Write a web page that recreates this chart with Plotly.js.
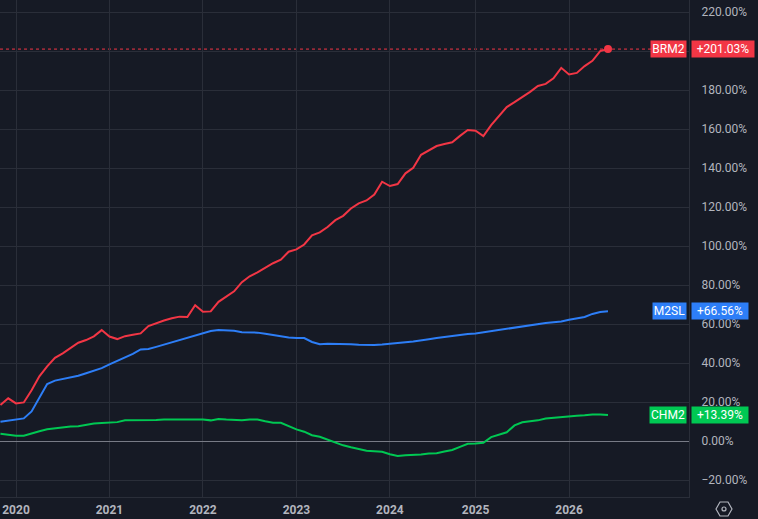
<!DOCTYPE html>
<html><head><meta charset="utf-8">
<script src="https://cdn.plot.ly/plotly-3.0.1.min.js"></script>
<style>html,body{margin:0;padding:0;background:#161a25;overflow:hidden}#chart{width:758px;height:519px}</style>
</head><body><div id="chart"></div>
<script>
const months = [
 '2019-11','2019-12',
 '2020-01','2020-02','2020-03','2020-04','2020-05','2020-06','2020-07','2020-08','2020-09','2020-10','2020-11','2020-12',
 '2021-01','2021-02','2021-03','2021-04','2021-05','2021-06','2021-07','2021-08','2021-09','2021-10','2021-11','2021-12',
 '2022-01','2022-02','2022-03','2022-04','2022-05','2022-06','2022-07','2022-08','2022-09','2022-10','2022-11','2022-12',
 '2023-01','2023-02','2023-03','2023-04','2023-05','2023-06','2023-07','2023-08','2023-09','2023-10','2023-11','2023-12',
 '2024-01','2024-02','2024-03','2024-04','2024-05','2024-06','2024-08','2024-09','2024-10','2024-11','2024-12',
 '2025-01','2025-02','2025-03','2025-04','2025-05','2025-06','2025-07','2025-08','2025-09','2025-10','2025-11','2025-12',
 '2026-01','2026-02','2026-03','2026-04','2026-05','2026-06'
];
const brm2 = [18.5,21.9,19.3,19.8,26.0,33.2,38.3,42.7,45.0,47.5,
 50.4,51.8,53.7,56.9,53.6,52.3,53.8,54.5,55.2,59.0,
 60.6,61.8,63.0,63.8,63.6,69.7,66.3,66.5,71.4,74.2,
 76.8,81.5,84.5,86.5,88.9,91.2,93.0,97.1,98.3,100.8,
 105.5,107.0,109.8,113.3,115.5,119.3,121.9,123.4,126.4,133.0,
 130.8,131.8,137.3,140.1,146.8,148.9,151.3,152.3,153.2,156.5,
 159.5,159.2,156.4,162.0,166.9,171.3,173.8,176.4,179.1,182.1,
 183.2,186.0,191.4,188.0,188.8,192.3,195.0,200.0,201.03];
const m2sl = [9.9,10.4,11.0,11.6,15.2,22.3,29.2,31.0,31.8,32.4,
 33.5,34.8,36.2,37.4,39.3,41.0,42.8,44.7,47.0,47.2,
 48.3,49.5,50.5,51.6,52.9,54.2,55.6,56.4,56.9,56.9,
 56.6,55.8,55.6,55.6,55.0,54.3,53.6,53.1,52.9,52.8,
 50.8,49.6,49.9,49.9,49.8,49.6,49.4,49.2,49.2,49.5,
 50.0,50.4,50.7,51.1,51.8,52.2,52.8,53.4,53.9,54.4,
 54.9,55.2,55.8,56.4,57.0,57.7,58.3,58.9,59.6,60.1,
 60.5,60.9,61.3,62.2,63.0,63.6,65.2,66.2,66.56];
const chm2 = [3.7,3.3,2.7,2.7,4.0,5.0,6.0,6.5,7.0,7.5,
 7.6,8.3,9.0,9.3,9.6,9.7,10.6,10.6,10.6,10.7,
 10.8,11.0,11.1,11.1,11.1,11.0,11.0,10.6,11.3,11.0,
 10.8,10.6,11.0,11.1,10.2,9.4,9.4,7.5,6.0,4.8,
 3.0,2.2,0.6,-0.8,-2.2,-3.2,-4.2,-5.0,-5.2,-5.5,
 -6.8,-7.7,-7.3,-7.2,-6.9,-6.4,-6.2,-5.4,-4.6,-3.0,
 -1.4,-1.3,-0.9,2.0,3.3,4.5,8.0,9.6,10.2,10.6,
 11.6,12.0,12.3,12.5,13.0,13.2,13.6,13.6,13.39];

const seriesNames = ['BRM2','M2SL','CHM2'];
const seriesData = [brm2, m2sl, chm2];
const seriesColors = ['#f23645','#2d7ef7','#00c853'];
const nameWidths = [33,31,34];
const valueWidths = [60,54,54];
const yearTicks = ['2020-01','2021-01','2022-01','2023-01','2024-01','2025-01','2026-01'];
const yearLabels = ['2020','2021','2022','2023','2024','2025','2026'];
const yTicks = [-20,0,20,40,60,80,100,120,140,160,180,200,220];
const yTickText = yTicks.map(v => (v<0?'\u2212':'') + Math.abs(v).toFixed(2) + '%');

const FONT = 'Roboto, "Liberation Sans", sans-serif';
const last = months[months.length-1];

const traces = seriesData.map((d,k)=>({
  x: months, y: d, type:'scatter', mode:'lines', name: seriesNames[k],
  line:{color: seriesColors[k], width:2}, hoverinfo:'skip'
}));
traces.push({x:[last], y:[brm2[brm2.length-1]], type:'scatter', mode:'markers',
  marker:{color:seriesColors[0], size:8}, hoverinfo:'skip'});

const annotations = [];
seriesData.forEach((d,k)=>{
  const v = d[d.length-1];
  annotations.push({xref:'paper', yref:'y', x:0.997, y:v, xanchor:'right', yanchor:'middle',
    text: seriesNames[k], showarrow:false, bgcolor: seriesColors[k], width:nameWidths[k],
    borderpad:1, font:{family:FONT, size:12, color:'#ffffff'}});
  annotations.push({xref:'paper', yref:'y', x:1.003, y:v, xanchor:'left', yanchor:'middle',
    text: (v>=0?'+':'') + v.toFixed(2) + '%', showarrow:false, bgcolor: seriesColors[k], width:valueWidths[k],
    borderpad:1, font:{family:FONT, size:12, color:'#ffffff'}});
});

const layout = {
  width:758, height:519,
  paper_bgcolor:'#161a25', plot_bgcolor:'#161a25',
  margin:{l:0, r:69, t:0, b:22},
  showlegend:false,
  hovermode:false,
  font:{family:FONT, size:12, color:'#b2b5be'},
  xaxis:{type:'category', range:[-0.054, 88.4], tickmode:'array', tickvals:yearTicks, ticktext:yearLabels,
    showgrid:true, gridcolor:'#2a2e39', gridwidth:1, zeroline:false, ticks:'',
    showline:true, linecolor:'#2a2e39', linewidth:1, ticklabelstandoff:2,
    tickfont:{family:FONT, size:12, color:'#b2b5be', weight:'bold'}},
  yaxis:{side:'right', range:[-28.7, 226.2], tickmode:'array', tickvals:yTicks, ticktext:yTickText,
    showgrid:true, gridcolor:'#2a2e39', gridwidth:1,
    zeroline:true, zerolinecolor:'#787b86', zerolinewidth:1, ticks:'', ticklabelstandoff:9,
    showline:true, linecolor:'#2a2e39', linewidth:1,
    tickfont:{family:FONT, size:12, color:'#b2b5be'}},
  shapes:[
    {type:'line', xref:'paper', yref:'y', x0:0, x1:0.99, y0:brm2[brm2.length-1], y1:brm2[brm2.length-1],
     line:{color:seriesColors[0], width:1, dash:'dot'}, layer:'below'},
    {type:'path', xref:'paper', yref:'paper',
     path:'M 1.0392 -0.0241 L 1.045 -0.0101 L 1.0566 -0.0101 L 1.0624 -0.0241 L 1.0566 -0.0382 L 1.045 -0.0382 Z',
     line:{color:'#b2b5be', width:1.2}},
    {type:'circle', xref:'paper', yref:'paper', x0:1.0479, x1:1.0537, y0:-0.0281, y1:-0.0201,
     line:{color:'#b2b5be', width:1.2}}
  ],
  annotations: annotations
};

Plotly.newPlot('chart', traces, layout, {staticPlot:true, displayModeBar:false});
</script>
</body></html>
